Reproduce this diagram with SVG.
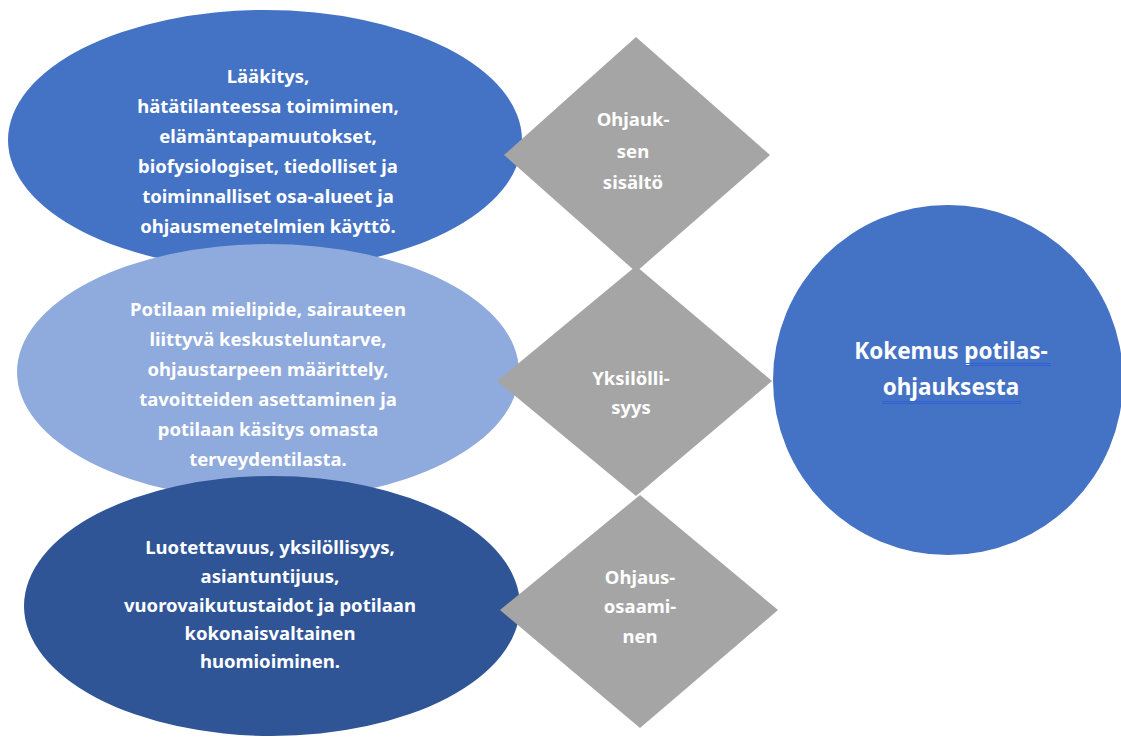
<svg xmlns="http://www.w3.org/2000/svg" width="1121" height="740" viewBox="0 0 1121 740">
<style>
.t{font-family:"Noto Sans","Open Sans",sans-serif;font-weight:bold;font-size:18.5px;fill:#fff;text-anchor:middle}
.d{fill:#a5a5a5}
.big{font-size:22.5px}
.ul{stroke:#2f5fd0;stroke-width:1}
</style>
<rect width="1121" height="740" fill="#fff"/>
<g id="connectors"/>
<g id="ellipse1">
<ellipse cx="265" cy="140" rx="257" ry="130" fill="#4472c4"/>
<text class="t"><tspan x="268" y="83">Lääkitys,</tspan><tspan x="268" y="113">hätätilanteessa toimiminen,</tspan><tspan x="268" y="143">elämäntapamuutokset,</tspan><tspan x="268" y="173">biofysiologiset, tiedolliset ja</tspan><tspan x="268" y="203">toiminnalliset osa-alueet ja</tspan><tspan x="268" y="233">ohjausmenetelmien käyttö.</tspan></text>
</g>
<g id="ellipse2">
<ellipse cx="268" cy="372" rx="251" ry="128" fill="#8faadc"/>
<text class="t"><tspan x="268" y="316">Potilaan mielipide, sairauteen</tspan><tspan x="268" y="346">liittyvä keskusteluntarve,</tspan><tspan x="268" y="376">ohjaustarpeen määrittely,</tspan><tspan x="268" y="406">tavoitteiden asettaminen ja</tspan><tspan x="268" y="436">potilaan käsitys omasta</tspan><tspan x="268" y="466">terveydentilasta.</tspan></text>
</g>
<g id="ellipse3">
<ellipse cx="272" cy="606" rx="248" ry="130" fill="#2f5597"/>
<text class="t"><tspan x="270" y="554">Luotettavuus, yksilöllisyys,</tspan><tspan x="270" y="583">asiantuntijuus,</tspan><tspan x="270" y="612">vuorovaikutustaidot ja potilaan</tspan><tspan x="270" y="640">kokonaisvaltainen</tspan><tspan x="270" y="668">huomioiminen.</tspan></text>
</g>
<g id="diamond1">
<polygon class="d" points="636,37 770,155 636,272 504,155"/>
<text class="t"><tspan x="633" y="126">Ohjauk-</tspan><tspan x="633" y="158">sen</tspan><tspan x="633" y="189">sisältö</tspan></text>
</g>
<g id="diamond2">
<polygon class="d" points="636,266 772,381 636,496 497,381"/>
<text class="t"><tspan x="631" y="385">Yksilölli-</tspan><tspan x="631" y="414">syys</tspan></text>
</g>
<g id="diamond3">
<polygon class="d" points="640,495 778,610 640,728 500,610"/>
<text class="t"><tspan x="640" y="584">Ohjaus-</tspan><tspan x="640" y="613">osaami-</tspan><tspan x="640" y="643">nen</tspan></text>
</g>
<g id="circle">
<circle cx="948" cy="380" r="175" fill="#4472c4"/>
<text class="t big"><tspan x="951" y="359">Kokemus potilas-</tspan><tspan x="951" y="395">ohjauksesta</tspan></text>
<path class="ul" d="M965 363.5H1051M965 365.5H1051M882 401.5H1021M882 403.5H1021" fill="none"/>
</g>
</svg>
